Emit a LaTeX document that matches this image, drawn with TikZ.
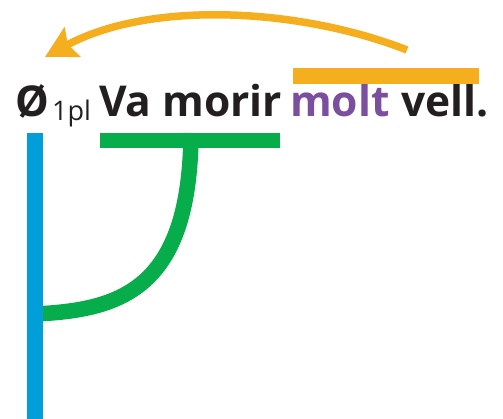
\documentclass[tikz,border=0pt]{standalone}
\usepackage{fontspec}
\setmainfont{Open Sans}
\usetikzlibrary{arrows.meta}
\definecolor{AgrOrange}{HTML}{F4AE1E}
\definecolor{AgrGreen}{HTML}{07AD4A}
\definecolor{AgrBlue}{HTML}{009FDA}
\definecolor{AgrPurple}{HTML}{7B4F9E}
\definecolor{AgrInk}{HTML}{231F20}

\begin{document}
\begin{tikzpicture}[x=1pt, y=-1pt,
    word/.style={inner sep=0pt, anchor=base west, color=AgrInk, font=\fontsize{42.5}{48}\selectfont\bfseries},
    bar/.style={line width=15.5pt}]
    \useasboundingbox (0,0) rectangle (503,419);

    \node[word] (nul) at (15,117) {Ø};
    \node[word, font=\fontsize{27}{30}\selectfont] (pers) at (52,121) {1pl};
    \node[word] (vamorir) at (99,117) {Va morir};
    \node[word, color=AgrPurple] (molt) at (290,117) {molt};
    \node[word] (vell) at (401,117) {vell.};

    \coordinate (ob-l) at (293,76);
    \coordinate (ob-r) at (479,76);
    \coordinate (gb-l) at (100,140.5);
    \coordinate (gb-r) at (280,140.5);
    \coordinate (gb-m) at (191,133);
    \coordinate (bl-t) at (35,133);
    \coordinate (bl-b) at (35,419);
    \coordinate (bl-j) at (35,314);
    \coordinate (arr-s) at (407,50);
    \coordinate (arr-e) at (45,57);

    \draw[bar, AgrOrange] (ob-l) -- (ob-r);
    \draw[bar, AgrGreen] (gb-l) -- (gb-r);
    \draw[bar, AgrGreen] (gb-m) .. controls (190,290) and (120,310) .. (bl-j);
    \draw[bar, AgrBlue] (bl-t) -- (bl-b);

    \draw[line width=7.5pt, AgrOrange, -{Stealth[length=31pt, width=33pt, inset=5pt]}]
        (arr-s) .. controls (300,8) and (150,0) .. (arr-e);
\end{tikzpicture}
\end{document}
